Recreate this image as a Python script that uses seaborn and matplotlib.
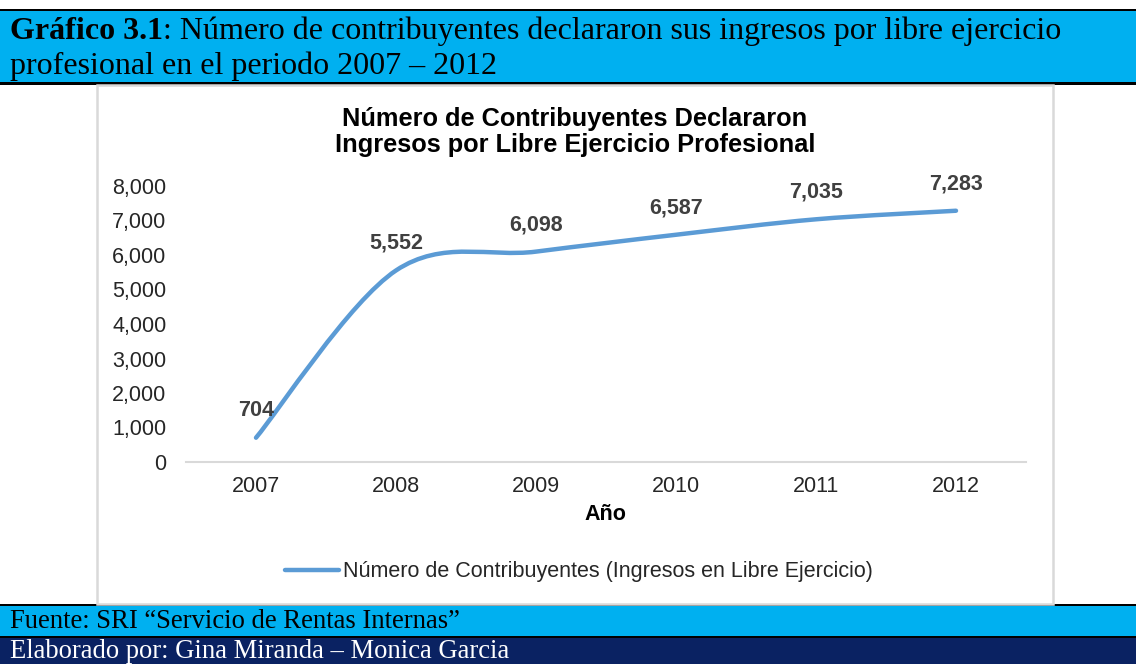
import numpy as np
import matplotlib
matplotlib.use("Agg")
import matplotlib.pyplot as plt
from matplotlib.patches import Rectangle, PathPatch
from matplotlib.path import Path
from matplotlib.lines import Line2D
import seaborn as sns
import pandas as pd

# ---- data ----
years = ["2007", "2008", "2009", "2010", "2011", "2012"]
contribuyentes = [704, 5552, 6098, 6587, 7035, 7283]
value_labels = ["704", "5,552", "6,098", "6,587", "7,035", "7,283"]
y_ticks = [0, 1000, 2000, 3000, 4000, 5000, 6000, 7000, 8000]
y_tick_labels = ["0", "1,000", "2,000", "3,000", "4,000", "5,000", "6,000", "7,000", "8,000"]
series_name = "Número de Contribuyentes (Ingresos en Libre Ejercicio)"
chart_title = "Número de Contribuyentes Declararon\nIngresos por Libre Ejercicio Profesional"
x_title = "Año"
header_bold = "Gráfico 3.1"
header_rest = ": Número de contribuyentes declararon sus ingresos por libre ejercicio"
header_line2 = "profesional en el periodo 2007 – 2012"
source_text = "Fuente: SRI “Servicio de Rentas Internas”"
author_text = "Elaborado por: Gina Miranda – Monica Garcia"

sns.set_theme(style="white")
plt.rcParams['font.family'] = ['Liberation Sans', 'DejaVu Sans']

W, H = 1136, 664
fig = plt.figure(figsize=(W / 100, H / 100), dpi=100)
fig.patch.set_facecolor("white")

def fx(x):
    return x / W

def fy(y):
    return 1 - y / H

def rect(x0, y0, x1, y1, color, ec="none", lw=0, z=0):
    fig.patches.append(Rectangle((fx(x0), fy(y1)), fx(x1) - fx(x0), fy(y0) - fy(y1),
                                 transform=fig.transFigure, facecolor=color,
                                 edgecolor=ec, linewidth=lw, zorder=z))

light_blue = "#00B0F0"
navy = "#0A2262"

# header band
rect(0, 9, W, 85, "black", z=0)
rect(0, 11, W, 82, light_blue, z=1)
# chart box
rect(97, 85, 1053, 604, "white", ec="#D9D9D9", lw=1.8, z=1)
# footer bands
rect(0, 604, W, H, "black", z=0)
rect(0, 606, W, 636, light_blue, z=1)
rect(0, 638, W, H, navy, z=1)

# header texts (Times-like)
serif = ['Liberation Serif', 'DejaVu Serif']
hdr_size = 23.0
t_bold = fig.text(fx(10), fy(39), header_bold, family=serif, fontsize=hdr_size,
                  fontweight="bold", color="black", va="baseline", ha="left", zorder=5)
renderer = fig.canvas.get_renderer()
bb = t_bold.get_window_extent(renderer=renderer)
fig.text(bb.x1 / W, fy(39), header_rest, family=serif, fontsize=hdr_size,
         color="black", va="baseline", ha="left", zorder=5)
fig.text(fx(10), fy(74), header_line2, family=serif, fontsize=hdr_size, color="black",
         va="baseline", ha="left", zorder=5)
fig.text(fx(10), fy(628), source_text, family=serif, fontsize=19.2, color="black",
         va="baseline", ha="left", zorder=5)
fig.text(fx(10), fy(658), author_text, family=serif, fontsize=19.2, color="white",
         va="baseline", ha="left", zorder=5)

# axes
ax = fig.add_axes([fx(186), fy(462), fx(1026) - fx(186), fy(186) - fy(462)])
ax.set_facecolor("none")
ax.set_zorder(3)

x_pos = np.arange(len(years))
df = pd.DataFrame({"x": x_pos, "y": contribuyentes})
sns.lineplot(data=df, x="x", y="y", ax=ax, color="#5B9BD5", linewidth=3.2)
ax.lines[0].set_visible(False)

# smoothed (Excel-style) curve through the data points
pts = np.column_stack([x_pos, contribuyentes]).astype(float)
verts = [tuple(pts[0])]
codes = [Path.MOVETO]
n = len(pts)
for i in range(n - 1):
    p0 = pts[i - 1] if i > 0 else pts[i]
    p1 = pts[i]
    p2 = pts[i + 1]
    p3 = pts[i + 2] if i + 2 < n else pts[i + 1]
    c1 = p1 + (p2 - p0) / 6.0
    c2 = p2 - (p3 - p1) / 6.0
    verts += [tuple(c1), tuple(c2), tuple(p2)]
    codes += [Path.CURVE4] * 3
ax.add_patch(PathPatch(Path(verts, codes), facecolor="none", edgecolor="#5B9BD5",
                       linewidth=3.2, capstyle="round", joinstyle="round", zorder=3))

for xi, yi, lab in zip(x_pos, contribuyentes, value_labels):
    ax.annotate(lab, xy=(xi, yi), xytext=(0, 19.5), textcoords="offset points",
                ha="center", va="center", fontsize=15.5, fontweight="bold", color="#404040")

ax.set_xlim(-0.5, len(years) - 0.5)
ax.set_ylim(0, 8000)
ax.set_xticks(x_pos)
ax.set_xticklabels(years)
ax.set_yticks(y_ticks)
ax.set_yticklabels(y_tick_labels)
ax.tick_params(axis="both", length=0, labelsize=15.5, labelcolor="#262626")
ax.tick_params(axis="x", pad=10)
ax.tick_params(axis="y", pad=14)
ax.set_xlabel("")
ax.set_ylabel("")
for s in ["top", "right", "left"]:
    ax.spines[s].set_visible(False)
ax.spines["bottom"].set_color("#D9D9D9")
ax.spines["bottom"].set_linewidth(1.5)
ax.grid(False)
if ax.get_legend():
    ax.get_legend().remove()

fig.text(fx(575), fy(132), chart_title, ha="center", va="center", fontsize=18.3,
         fontweight="bold", color="black", linespacing=1.15, zorder=5)
fig.text(fx(605), fy(515), x_title, ha="center", va="center", fontsize=15.5,
         fontweight="bold", color="black", zorder=5)

handle = Line2D([0], [0], color="#5B9BD5", linewidth=3.2, solid_capstyle="round")
leg = fig.legend([handle], [series_name], loc="center",
                 bbox_to_anchor=(fx(579), fy(572)), frameon=False, fontsize=15.5,
                 handlelength=2.5, handletextpad=0.2)
for t in leg.get_texts():
    t.set_color("#262626")

fig.savefig("out.png", dpi=100)
